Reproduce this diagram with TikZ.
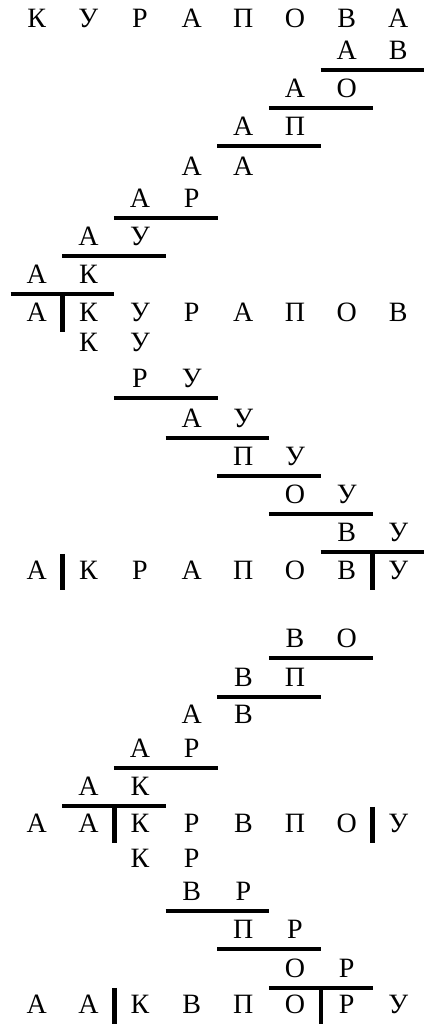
\documentclass[tikz,border=0pt]{standalone}
\usepackage{fontspec}
\setmainfont{Liberation Serif}
\usepackage{tikz}

\begin{document}
\begin{tikzpicture}[x=1pt,y=-1pt,
  cell/.style={inner sep=0pt,minimum width=51.66pt,text height=25pt,text depth=11pt,
    anchor=base,font=\fontsize{28}{28}\selectfont},
  rule/.style={line width=4.5pt}]
\useasboundingbox (0,0) rectangle (433,1029);
% row / baseline / first column / letters
\foreach \r/\yb/\c/\w in {
  1/27/0/{К,У,Р,А,П,О,В,А}, 2/59/6/{А,В}, 3/97/5/{А,О}, 4/135/4/{А,П},
  5/175/3/{А,А}, 6/207/2/{А,Р}, 7/245/1/{А,У}, 8/283/0/{А,К},
  9/321/0/{А,К,У,Р,А,П,О,В}, 10/351/1/{К,У}, 11/387/2/{Р,У}, 12/427/3/{А,У},
  13/465/4/{П,У}, 14/503/5/{О,У}, 15/541/6/{В,У},
  16/579/0/{А,К,Р,А,П,О,В,У},
  17/647/5/{В,О}, 18/686/4/{В,П}, 19/723/3/{А,В}, 20/757/2/{А,Р},
  21/795/1/{А,К}, 22/832/0/{А,А,К,Р,В,П,О,У},
  23/867/2/{К,Р}, 24/900/3/{В,Р}, 25/938/4/{П,Р}, 26/977/5/{О,Р},
  27/1013/0/{А,А,К,В,П,О,Р,У}}
  \foreach \l [count=\i from \c] in \w
    \node[cell] (r\r-\i) at ({36.7+51.66*\i},\yb) {\l};
% underlines
\foreach \r/\a/\b in {2/6/7, 3/5/6, 4/4/5, 6/2/3, 7/1/2, 8/0/1,
  11/2/3, 12/3/4, 13/4/5, 14/5/6, 15/6/7,
  17/5/6, 18/4/5, 20/2/3, 21/1/2, 24/3/4, 25/4/5, 26/5/6}
  \draw[rule] (r\r-\a.south west) -- (r\r-\b.south east);
% bars
\foreach \r/\a in {9/0, 16/0, 16/6, 22/1, 22/6, 27/1, 27/5}
  \draw[rule] (r\r-\a.north east) -- (r\r-\a.south east);
\end{tikzpicture}
\end{document}
